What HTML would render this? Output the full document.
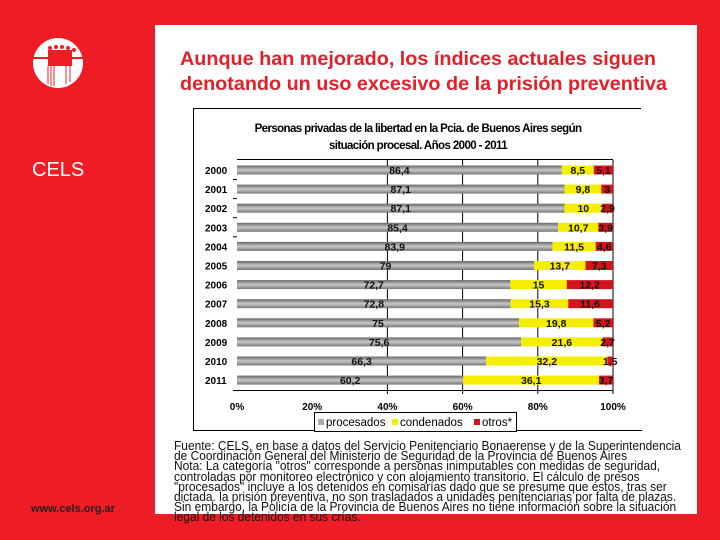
<!DOCTYPE html>
<html><head><meta charset="utf-8"><style>
body{margin:0;width:720px;height:540px;background:#ee1c25;position:relative;overflow:hidden;font-family:"Liberation Sans",sans-serif}
#panel{position:absolute;left:155px;top:25px;width:542px;height:489px;background:#fff}
#title{position:absolute;left:180px;top:47px;color:#e3202a;font-weight:bold;font-size:19.8px;line-height:25px;white-space:nowrap}
#note{position:absolute;left:174px;top:441px;font-size:12.5px;line-height:10.2px;color:#111;white-space:nowrap;transform-origin:0 0;transform:scaleX(0.956)}
#cels{position:absolute;left:32px;top:159px;color:#fff;font-size:20px}
#url{position:absolute;left:31px;top:503px;font-size:11px;font-weight:bold;color:#222}
</style></head><body>
<div id="panel"></div>
<svg width="720" height="540" style="position:absolute;left:0;top:0">
<circle cx="58" cy="63" r="25" fill="#fff"/>
<rect x="48" y="50" width="24" height="16" fill="#ee1c25"/>
<rect x="33" y="57" width="50" height="2" fill="#ee1c25"/>
<g fill="#ee1c25"><circle cx="50" cy="48" r="2"/><circle cx="56" cy="47" r="2"/><circle cx="62" cy="47" r="2"/><circle cx="68" cy="48" r="2"/><circle cx="74" cy="50" r="2"/></g>
<g stroke="#ee1c25" stroke-width="1"><line x1="48" y1="66" x2="48" y2="84"/><line x1="51" y1="66" x2="51" y2="86"/><line x1="54" y1="66" x2="54" y2="86"/><line x1="66" y1="66" x2="66" y2="84"/><line x1="70" y1="66" x2="70" y2="82"/></g>
</svg>
<div id="cels">CELS</div>
<div id="url">www.cels.org.ar</div>
<div id="title">Aunque han mejorado, los índices actuales siguen<br>denotando un uso excesivo de la prisión preventiva</div>
<svg id="chart" width="720" height="540" style="position:absolute;left:0;top:0"></svg>
<div id="note">Fuente: CELS, en base a datos del Servicio Penitenciario Bonaerense y de la Superintendencia<br>de Coordinación General del Ministerio de Seguridad de la Provincia de Buenos Aires<br>Nota: La categoría "otros" corresponde a personas inimputables con medidas de seguridad,<br>controladas por monitoreo electrónico y con alojamiento transitorio. El cálculo de presos<br>"procesados" incluye a los detenidos en comisarías dado que se presume que éstos, tras ser<br>dictada. la prisión preventiva, no son trasladados a unidades penitenciarias por falta de plazas.<br>Sin embargo, la Policía de la Provincia de Buenos Aires no tiene información sobre la situación<br>legal de los detenidos en sus crías.</div>
<script>
const years=["2000","2001","2002","2003","2004","2005","2006","2007","2008","2009","2010","2011"];
const procesados=[86.4,87.1,87.1,85.4,83.9,79,72.7,72.8,75,75.6,66.3,60.2];
const condenados=[8.5,9.8,10,10.7,11.5,13.7,15,15.3,19.8,21.6,32.2,36.1];
const otros=[5.1,3.1,2.9,3.9,4.6,7.3,12.2,11.6,5.2,2.7,1.5,3.7];
const pLabels=["86,4","87,1","87,1","85,4","83,9","79","72,7","72,8","75","75,6","66,3","60,2"];
const cLabels=["8,5","9,8","10","10,7","11,5","13,7","15","15,3","19,8","21,6","32,2","36,1"];
const oLabels=["5,1","3","2,9","3,9","4,6","7,3","12,2","11,6","5,2","2,7","1,5","3,7"];
const ticks=[0,20,40,60,80,100];
const svg=document.getElementById('chart');const NS='http://www.w3.org/2000/svg';
function mk(t,a,p){const e=document.createElementNS(NS,t);for(const k in a)e.setAttribute(k,a[k]);(p||svg).appendChild(e);return e;}
const x=v=>237+v*3.76;
const y=i=>170+i*19.1;
mk('defs',{}).innerHTML='<linearGradient id="gg" x1="0" y1="0" x2="0" y2="1"><stop offset="0" stop-color="#666"/><stop offset="0.5" stop-color="#c8c8c8"/><stop offset="1" stop-color="#777"/></linearGradient>';
let e;
e=mk('line',{x1:193,y1:108.5,x2:641,y2:108.5,stroke:'#000'});
e=mk('line',{x1:193.5,y1:108,x2:193.5,y2:430,stroke:'#000'});
e=mk('line',{x1:193,y1:430.5,x2:642,y2:430.5,stroke:'#000'});
e=mk('text',{x:418,y:132,'text-anchor':'middle','font-size':'11.5','font-weight':'bold','letter-spacing':'-0.6'});e.textContent='Personas privadas de la libertad en la Pcia. de Buenos Aires según';
e=mk('text',{x:418,y:149,'text-anchor':'middle','font-size':'11.5','font-weight':'bold','letter-spacing':'-0.6'});e.textContent='situación procesal. Años 2000 - 2011';
e=mk('line',{x1:237,y1:159.5,x2:613,y2:159.5,stroke:'#000'});
ticks.forEach(t=>{
 if(t>=40){e=mk('line',{x1:x(t),y1:160,x2:x(t),y2:394,stroke:'#000'});}
 e=mk('text',{x:x(t),y:410,'text-anchor':'middle','font-size':'10','font-weight':'bold'});e.textContent=t+'%';
});
e=mk('line',{x1:233,y1:390.5,x2:613,y2:390.5,stroke:'#000'});
years.forEach((yr,i)=>{
 const cy=y(i);
 e=mk('text',{x:205,y:cy+4,'font-size':'10','font-weight':'bold'});e.textContent=yr;
 if(i<4){e=mk('line',{x1:233,y1:cy+9.5,x2:237,y2:cy+9.5,stroke:'#000'});}
 const p=procesados[i],c=condenados[i],o=otros[i];
 e=mk('rect',{x:x(0),y:cy-4.5,width:x(p)-x(0),height:9,fill:'url(#gg)'});
 e=mk('rect',{x:x(p),y:cy-4.5,width:x(p+c)-x(p),height:9,fill:'#f5ee00'});
 e=mk('rect',{x:x(p+c),y:cy-4.5,width:Math.max(0,x(100)-x(p+c)),height:9,fill:'#d4141c'});
 const lbl=(v,tx,n)=>{e=mk('text',{x:tx,y:cy+4,'text-anchor':'middle','font-size':'10.5','font-weight':'bold','fill':'#111'});e.textContent=v;};
 lbl(pLabels[i],x(p/2),'value-procesados');
 lbl(cLabels[i],x(p+c/2),'value-condenados');
 lbl(oLabels[i],x(p+c+o/2),'value-otros');
});
const lg=mk('g',{});
mk('rect',{x:314.5,y:412.5,width:202,height:19,fill:'#fff',stroke:'#000'},lg);
[['#aaa','procesados',318],['#f5ee00','condenados',392],['#d4141c','otros*',474]].forEach(([c,t,lx])=>{
 e=mk('rect',{x:lx,y:419,width:6,height:6,fill:c},lg);
 e=mk('text',{x:lx+8,y:426,'font-size':'11.5'},lg);e.textContent=t;
});
</script>
</body></html>
